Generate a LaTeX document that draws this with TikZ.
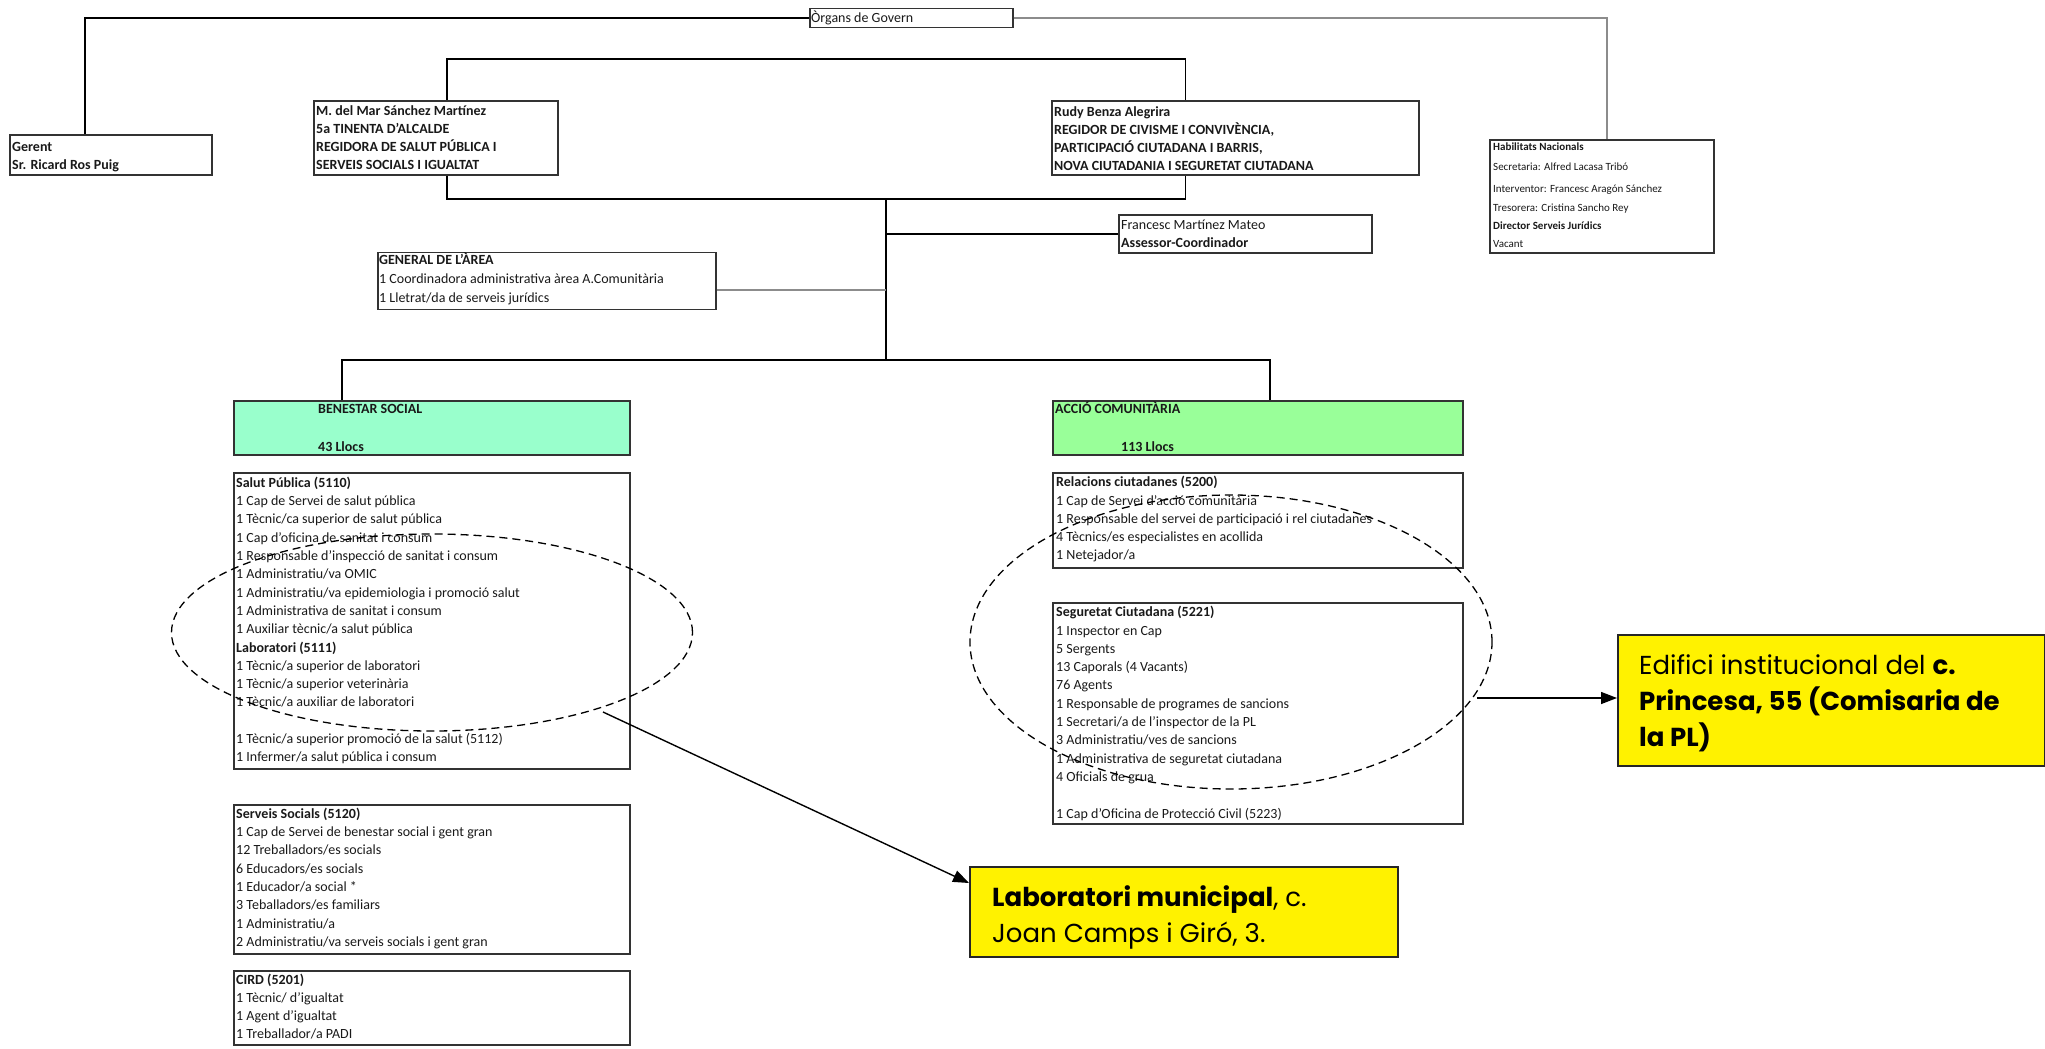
\documentclass[tikz,border=0pt]{standalone}
\usepackage{fontspec}
\setmainfont{Carlito}
\newfontfamily\gothic{Poppins}
\usetikzlibrary{shapes.geometric,arrows.meta,calc}
\definecolor{benc}{HTML}{99FFCC}
\definecolor{accc}{HTML}{99FF99}
\newcommand\tabl[1]{\begin{tabular}[t]{@{}l@{}}#1\end{tabular}}
\begin{document}
\begin{tikzpicture}[x=1pt,y=-1pt,
 box/.style={draw=black!80, line width=1.5pt, rectangle, inner sep=0pt, anchor=north west},
 txt/.style={inner sep=0pt, anchor=base west, text=black!90, font=\fontsize{14}{18.3}\selectfont},
 btxt/.style={txt, font=\fontsize{14}{18.3}\selectfont\bfseries},
 small/.style={txt, font=\fontsize{11}{18.3}\selectfont},
 conn/.style={draw=black, line width=1.6pt},
 fconn/.style={draw=black!45, line width=1.6pt},
 oval/.style={ellipse, draw=black, line width=1.3pt, dash pattern=on 8pt off 5pt, inner sep=0pt},
 arr/.style={draw=black, line width=1.4pt, -{Triangle[length=16pt,width=12pt]}},
 yel/.style={box, fill=yellow, draw=black!85},
 ytxt/.style={inner sep=0pt, anchor=base west, font=\gothic\fontsize{26}{36}\selectfont},
]
\useasboundingbox (0,0) rectangle (2045,1049);

% boxes
\node[box, minimum width=203pt, minimum height=19pt] (org) at (809,8) {};
\node[box, minimum width=202pt, minimum height=40pt] (gerent) at (9,134) {};
\node[box, minimum width=244pt, minimum height=74pt] (mdm) at (313,100) {};
\node[box, minimum width=367pt, minimum height=74pt] (rudy) at (1051,100) {};
\node[box, minimum width=253pt, minimum height=38pt] (fran) at (1118,214) {};
\node[box, minimum width=338pt, minimum height=57pt] (gen) at (377,251.5) {};
\node[box, minimum width=224pt, minimum height=113pt] (hab) at (1489,139) {};
\node[box, fill=benc, minimum width=396pt, minimum height=54pt] (ben) at (233,400) {};
\node[box, fill=accc, minimum width=410pt, minimum height=54pt] (acc) at (1052,400) {};
\node[box, minimum width=396pt, minimum height=296pt] (salut) at (233,472) {};
\node[box, minimum width=396pt, minimum height=149pt] (ss) at (233,804) {};
\node[box, minimum width=396pt, minimum height=74pt] (cird) at (233,970) {};
\node[box, minimum width=410pt, minimum height=95pt] (rel) at (1052,472) {};
\node[box, minimum width=410pt, minimum height=221pt] (seg) at (1052,602) {};
\node[yel, minimum width=428pt, minimum height=90pt] (lab) at (969,866) {};
\node[yel, minimum width=427pt, minimum height=131pt] (edif) at (1617,634) {};

% texts
\node[txt] (org-t) at (811,23) {Òrgans de Govern};
\node[btxt] (gerent-t) at (12,151) {\tabl{Gerent\\Sr. Ricard Ros Puig}};
\node[btxt] (mdm-t) at (316,115) {\tabl{M. del Mar Sánchez Martínez\\5a TINENTA D'ALCALDE\\REGIDORA DE SALUT PÚBLICA I\\SERVEIS SOCIALS I IGUALTAT}};
\node[btxt] (rudy-t) at (1054,116) {\tabl{Rudy Benza Alegrira\\REGIDOR DE CIVISME I CONVIVÈNCIA,\\PARTICIPACIÓ CIUTADANA I BARRIS,\\NOVA CIUTADANIA I SEGURETAT CIUTADANA}};
\node[txt] (fran-t) at (1121,229.3) {\tabl{Francesc Martínez Mateo\\\textbf{Assessor-Coordinador}}};
\node[txt, font=\fontsize{14}{19}\selectfont] (gen-t) at (379,264) {\tabl{\textbf{GENERAL DE L'ÀREA}\\1 Coordinadora administrativa àrea A.Comunitària\\1 Lletrat/da de serveis jurídics}};
\node[small] (hab-t) at (1493,150.7) {\tabl{\textbf{Habilitats Nacionals}\\[1.7pt]Secretaria: Alfred Lacasa Tribó\\[3.7pt]Interventor: Francesc Aragón Sánchez\\Tresorera: Cristina Sancho Rey\\\textbf{Director Serveis Jurídics}\\Vacant}};
\node[btxt] (ben-t) at (318,413.3) {\tabl{BENESTAR SOCIAL\\[19.4pt]43 Llocs}};
\node[btxt] (acc-t) at (1055,413.3) {ACCIÓ COMUNITÀRIA};
\node[btxt] (acc-t2) at (1121,451) {113 Llocs};
\node[txt] (salut-t) at (236,487.3) {\tabl{\textbf{Salut Pública (5110)}\\1 Cap de Servei de salut pública\\1 Tècnic/ca superior de salut pública\\1 Cap d'oficina de sanitat i consum\\1 Responsable d'inspecció de sanitat i consum\\1 Administratiu/va OMIC\\1 Administratiu/va epidemiologia i promoció salut\\1 Administrativa de sanitat i consum\\1 Auxiliar tècnic/a salut pública\\\textbf{Laboratori (5111)}\\1 Tècnic/a superior de laboratori\\1 Tècnic/a superior veterinària\\1 Tècnic/a auxiliar de laboratori\\ \\1 Tècnic/a superior promoció de la salut (5112)\\1 Infermer/a salut pública i consum}};
\node[txt] (ss-t) at (236,818.3) {\tabl{\textbf{Serveis Socials (5120)}\\1 Cap de Servei de benestar social i gent gran\\12 Treballadors/es socials\\6 Educadors/es socials\\1 Educador/a social *\\3 Teballadors/es familiars\\1 Administratiu/a\\2 Administratiu/va serveis socials i gent gran}};
\node[txt] (cird-t) at (236,984) {\tabl{\textbf{CIRD (5201)}\\1 Tècnic/ d'igualtat\\1 Agent d'igualtat\\1 Treballador/a PADI}};
\node[txt] (rel-t) at (1056,486.7) {\tabl{\textbf{Relacions ciutadanes (5200)}\\1 Cap de Servei d'acció comunitària\\1 Responsable del servei de participació i rel ciutadanes\\4 Tècnics/es especialistes en acollida\\1 Netejador/a}};
\node[txt] (seg-t) at (1056,616.7) {\tabl{\textbf{Seguretat Ciutadana (5221)}\\1 Inspector en Cap\\5 Sergents\\13 Caporals (4 Vacants)\\76 Agents\\1 Responsable de programes de sancions\\1 Secretari/a de l'inspector de la PL\\3 Administratiu/ves de sancions\\1 Administrativa de seguretat ciutadana\\4 Oficials de grua\\ \\1 Cap d'Oficina de Protecció Civil (5223)}};
\node[ytxt] (lab-t) at (992,906.7) {\tabl{\textbf{Laboratori municipal}, c.\\Joan Camps i Giró, 3.}};
\node[ytxt] (edif-t) at (1639,674) {\tabl{Edifici institucional del \textbf{c.}\\\textbf{Princesa, 55 (Comisaria de}\\\textbf{la PL)}}};

% ellipses
\node[oval, minimum width=521pt, minimum height=197pt] (ov1) at (432,632.5) {};
\node[oval, minimum width=522pt, minimum height=294pt] (ov2) at (1231,642) {};

% connectors
\draw[conn] (org.west) -| ([xshift=76pt]gerent.north west);
\draw[fconn] (org.east) -| ([xshift=118pt]hab.north west);
\coordinate (b1) at (816,59);
\coordinate (b2) at (886,199);
\coordinate (b3) at (886,360);
\draw[conn] ([xshift=134pt]mdm.north west) |- (b1) -| ([xshift=134.5pt]rudy.north west);
\draw[conn] ([xshift=134pt]mdm.south west) |- (b2) -| ([xshift=134.5pt]rudy.south west);
\draw[conn] (b2) -- (b3);
\draw[conn] (fran.west) -- (fran.west -| b2);
\draw[fconn] ([yshift=-9pt]gen.east) -- ([yshift=-9pt]gen.east -| b2);
\draw[conn] ([xshift=109pt]ben.north west) |- (b3) -| ([xshift=218pt]acc.north west);

% arrows
\coordinate (a1s) at (603,712);
\draw[arr] (a1s) -- ([yshift=-17pt]lab.north west);
\coordinate (a2s) at (1477,698);
\draw[arr] (a2s) -- (a2s -| edif.west);
\end{tikzpicture}
\end{document}
